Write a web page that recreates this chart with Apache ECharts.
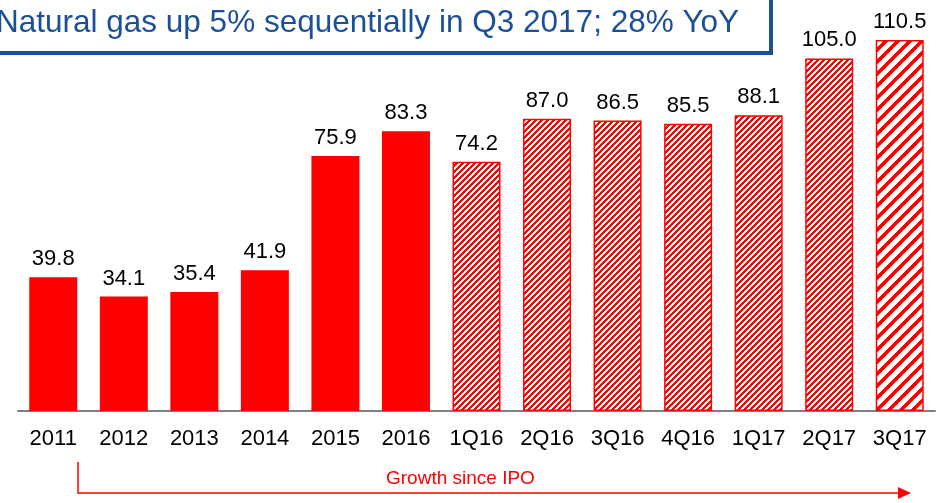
<!DOCTYPE html>
<html>
<head>
<meta charset="utf-8">
<script src="https://cdn.jsdelivr.net/npm/echarts@6/dist/echarts.min.js"></script>
<style>
  html, body { margin: 0; padding: 0; background: #fff; }
  #chart { width: 947px; height: 503px; }
</style>
</head>
<body>
<div id="chart"></div>
<script>
// data
const categories = ['2011', '2012', '2013', '2014', '2015', '2016', '1Q16', '2Q16', '3Q16', '4Q16', '1Q17', '2Q17', '3Q17']
const values = [39.8, 34.1, 35.4, 41.9, 75.9, 83.3, 74.2, 87.0, 86.5, 85.5, 88.1, 105.0, 110.5]
const titleText = 'Natural gas up 5% sequentially in Q3 2017; 28% YoY'
const arrowText = 'Growth since IPO'

const RED = '#ff0000'
const BLUE = '#1b4f98'

// diagonal stripe tile ("/" direction)
function stripes(period, width) {
  const c = document.createElement('canvas')
  c.width = period
  c.height = period
  const ctx = c.getContext('2d')
  const img = ctx.createImageData(period, period)
  for (let y = 0; y < period; y++) {
    for (let x = 0; x < period; x++) {
      const i = (y * period + x) * 4
      const on = (x + y) % period < width
      img.data[i] = 255
      img.data[i + 1] = on ? 0 : 255
      img.data[i + 2] = on ? 0 : 255
      img.data[i + 3] = 255
    }
  }
  ctx.putImageData(img, 0, 0)
  return c
}

const fineHatch = { image: stripes(6, 3), repeat: 'repeat' }
const wideHatch = { image: stripes(12, 5), repeat: 'repeat' }

const barData = values.map((v, i) => {
  let style
  if (i < 6) style = { color: RED }
  else if (i < values.length - 1) style = { color: fineHatch, borderColor: RED, borderWidth: 1.5 }
  else style = { color: wideHatch, borderColor: RED, borderWidth: 1.5 }
  return { value: v, itemStyle: style }
})

const chart = echarts.init(document.getElementById('chart'))

const option = {
  animation: false,
  grid: { left: 18, right: 12, top: 8, bottom: 92 },
  xAxis: {
    type: 'category',
    data: categories,
    axisLine: { lineStyle: { color: '#808080', width: 2 } },
    axisTick: { show: false },
    axisLabel: {
      color: '#000',
      fontSize: 22,
      fontFamily: 'Liberation Sans, Arial, sans-serif',
      margin: 17,
      interval: 0
    }
  },
  yAxis: {
    type: 'value',
    min: 0,
    max: 120,
    show: false,
    splitLine: { show: false }
  },
  series: [
    {
      type: 'bar',
      data: barData,
      barWidth: 48,
      label: {
        show: true,
        position: 'top',
        distance: 7,
        color: '#000',
        fontSize: 22,
        fontFamily: 'Liberation Sans, Arial, sans-serif',
        formatter: p => p.value.toFixed(1)
      }
    }
  ],
  graphic: [
    // title box
    {
      type: 'rect',
      shape: { x: -10, y: -10, width: 781, height: 63 },
      style: { fill: '#fff', stroke: BLUE, lineWidth: 4 },
      z: 10
    },
    {
      type: 'text',
      left: -4,
      top: 7,
      style: {
        text: titleText,
        fill: BLUE,
        font: '31.5px "Liberation Sans", Arial, sans-serif'
      },
      z: 11
    },
    // growth arrow
    {
      type: 'polyline',
      shape: { points: [[78, 462], [78, 493], [900, 493]] },
      style: { stroke: RED, lineWidth: 1.5, fill: null },
      z: 10
    },
    {
      type: 'polygon',
      shape: { points: [[898, 487], [911, 493], [898, 499]] },
      style: { fill: RED },
      z: 10
    },
    {
      type: 'text',
      left: 386,
      top: 469,
      style: {
        text: arrowText,
        fill: RED,
        font: '19px "Liberation Sans", Arial, sans-serif'
      },
      z: 10
    }
  ]
}

chart.setOption(option)
window.addEventListener('resize', () => chart.resize())
</script>
</body>
</html>
